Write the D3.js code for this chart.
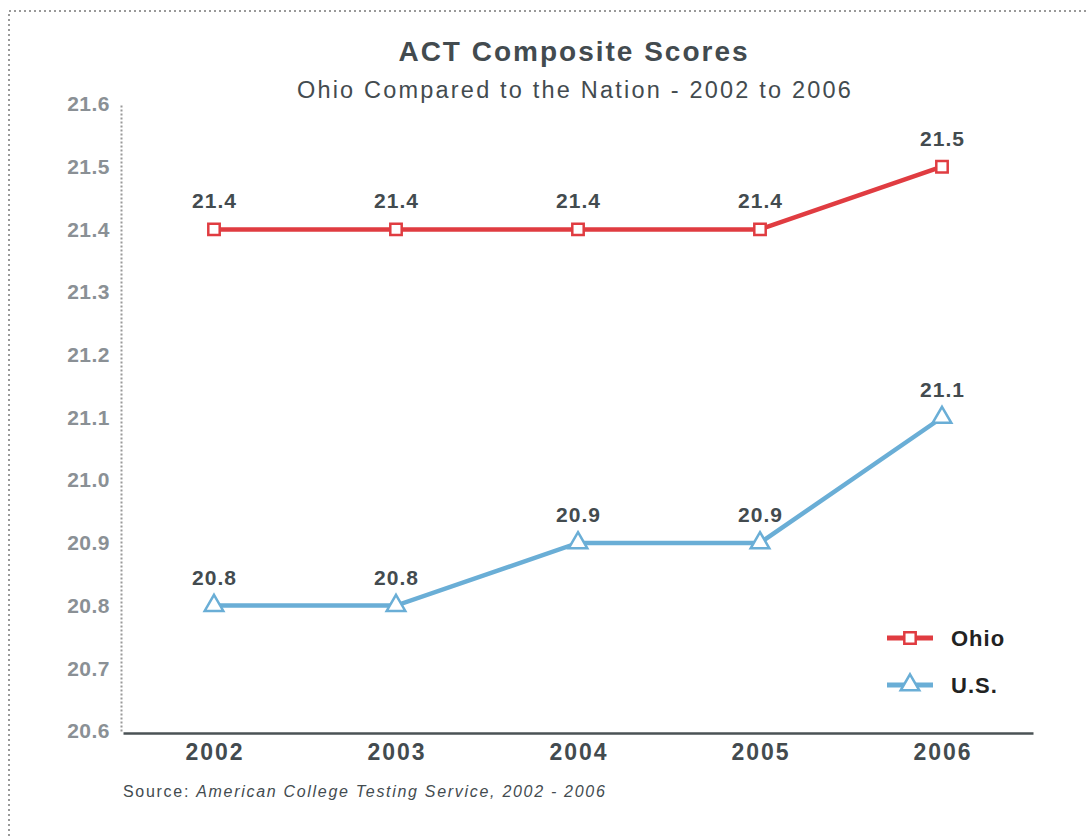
<!DOCTYPE html>
<html><head><meta charset="utf-8">
<script src="https://cdn.jsdelivr.net/npm/d3@7"></script>
<style>body{margin:0;background:#fff;} svg{display:block;font-family:"Liberation Sans",Arial,sans-serif;}</style>
</head><body>
<script>
const years = ["2002","2003","2004","2005","2006"];
const ohio = [21.4, 21.4, 21.4, 21.4, 21.5];
const us = [20.8, 20.8, 20.9, 20.9, 21.1];
const yTicks = [20.6,20.7,20.8,20.9,21.0,21.1,21.2,21.3,21.4,21.5,21.6];
const seriesNames = ["Ohio","U.S."];

const W=1086,H=836;
const svg=d3.select("body").append("svg").attr("width",W).attr("height",H);
// dotted frame
svg.append("path").attr("d","M9,836 V11 H1086").attr("fill","none").attr("stroke","#999").attr("stroke-width",2).attr("stroke-dasharray","2,3");

const x=d3.scaleBand().domain(years).range([123,1033]).padding(0);
const y=d3.scaleLinear().domain([20.6,21.6]).range([731,104]);

svg.append("text").attr("x",574).attr("y",61).attr("text-anchor","middle").attr("font-size",28).attr("font-weight","bold").attr("letter-spacing",2).attr("fill","#434b4f").text("ACT Composite Scores");
svg.append("text").attr("x",575).attr("y",98).attr("text-anchor","middle").attr("font-size",23.5).attr("letter-spacing",2.2).attr("fill","#434b4f").text("Ohio Compared to the Nation - 2002 to 2006");

// y axis
const ya=svg.append("g").attr("transform","translate(121,0)").call(d3.axisLeft(y).tickValues(yTicks).tickFormat(d3.format(".1f")).tickSize(0).tickPadding(11));
ya.select(".domain").attr("stroke","#999").attr("stroke-width",2).attr("stroke-dasharray","2,2");
ya.selectAll("text").attr("font-size",21).attr("font-weight","bold").attr("letter-spacing",0.5).attr("fill","#8a9095").attr("font-family","Liberation Sans,Arial,sans-serif");

// x axis
const xa=svg.append("g").attr("transform","translate(0,733)").call(d3.axisBottom(x).tickSize(0).tickPadding(11));
xa.select(".domain").attr("stroke","#4a5255").attr("stroke-width",2.5);
xa.selectAll("text").attr("font-size",23).attr("font-weight","bold").attr("letter-spacing",2).attr("dx",1).attr("fill","#434b4f").attr("font-family","Liberation Sans,Arial,sans-serif");

const cx=d=>x(d)+x.bandwidth()/2;
const red="#e03c41", blue="#6aaed6";
const line=d3.line().x((d,i)=>cx(years[i])).y(d=>y(d));
svg.append("path").datum(ohio).attr("d",line).attr("fill","none").attr("stroke",red).attr("stroke-width",4.5);
svg.append("path").datum(us).attr("d",line).attr("fill","none").attr("stroke",blue).attr("stroke-width",4.5);

const sq=d3.symbol().type(d3.symbolSquare).size(130);
const tri=d3.symbol().type(d3.symbolTriangle).size(150);
svg.selectAll(".om").data(ohio).enter().append("path").attr("d",sq).attr("transform",(d,i)=>`translate(${cx(years[i])},${y(d)})`).attr("fill","#fff").attr("stroke",red).attr("stroke-width",2.5);
svg.selectAll(".um").data(us).enter().append("path").attr("d",tri).attr("transform",(d,i)=>`translate(${cx(years[i])},${y(d)})`).attr("fill","#fff").attr("stroke",blue).attr("stroke-width",2.5);

const lab=(arr)=>svg.selectAll(null).data(arr).enter().append("text").attr("x",(d,i)=>cx(years[i])+0.5).attr("y",d=>y(d)-21).attr("text-anchor","middle").attr("font-size",21).attr("font-weight","bold").attr("letter-spacing",1).attr("fill","#434b4f").text(d=>d3.format(".1f")(d));
lab(ohio); lab(us);

// legend
const lg=[{n:seriesNames[0],c:red,s:sq,y:638},{n:seriesNames[1],c:blue,s:tri,y:685}];
lg.forEach(l=>{
  svg.append("line").attr("x1",887).attr("x2",933).attr("y1",l.y).attr("y2",l.y).attr("stroke",l.c).attr("stroke-width",5);
  svg.append("path").attr("d",l.s).attr("transform",`translate(910,${l.y})`).attr("fill","#fff").attr("stroke",l.c).attr("stroke-width",2.5);
  svg.append("text").attr("x",951).attr("y",l.y+8).attr("font-size",22).attr("font-weight","bold").attr("letter-spacing",1).attr("fill","#222").text(l.n);
});

const src=svg.append("text").attr("x",123).attr("y",797).attr("font-size",16).attr("letter-spacing",1.7).attr("fill","#434b4f");
src.append("tspan").text("Source: ");
src.append("tspan").attr("font-style","italic").text("American College Testing Service, 2002 - 2006");
</script>
</body></html>
